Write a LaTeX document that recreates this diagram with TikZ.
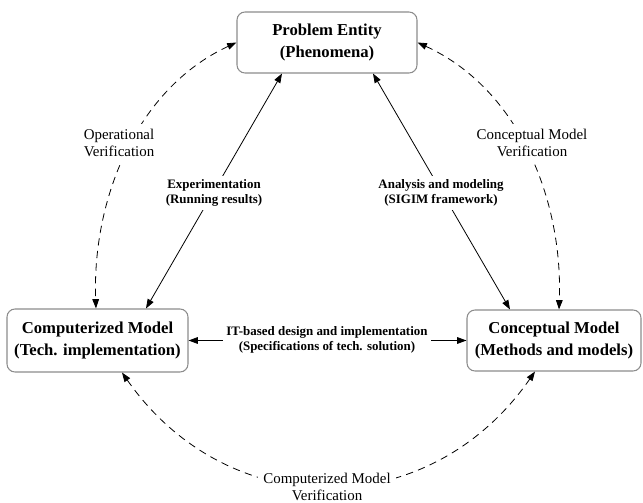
\documentclass[tikz,border=0pt]{standalone}
\usepackage{fontspec}
\setmainfont{Liberation Serif}
\usetikzlibrary{arrows.meta,calc}
\begin{document}
\begin{tikzpicture}[x=0.75pt,y=-0.75pt,
  box/.style={draw=black!45, line width=0.8pt, rounded corners=6pt, fill=white,
    align=center, inner sep=0pt, font=\bfseries\fontsize{12.5}{16.5}\selectfont},
  elab/.style={fill=white, align=center, inner sep=2.5pt,
    font=\bfseries\fontsize{9.7}{11.5}\selectfont},
  vlab/.style={fill=white, align=center, inner sep=4pt,
    font=\fontsize{11.2}{13}\selectfont},
  twoway/.style={line width=0.6pt,
    {Triangle[length=7pt,width=5pt]}-{Triangle[length=7pt,width=5pt]}},
  verif/.style={twoway, dash pattern=on 5.5pt off 4pt}
]
\path[use as bounding box] (0,0) rectangle (643,503);

% the three models
\node[box, minimum width=135pt, minimum height=45.75pt] (pe) at (327,42.5)
  {Problem Entity\\(Phenomena)};
\node[box, minimum width=135.75pt, minimum height=47.25pt] (cm) at (97.5,340.5)
  {Computerized Model\\(Tech. implementation)};
\node[box, minimum width=130.5pt, minimum height=45.75pt] (km) at (554,340.5)
  {Conceptual Model\\(Methods and models)};

% development links
\draw[twoway] (cm.north -| 146,0) -- (pe.south -| 282,0);
\draw[twoway] (km.north -| 510,0) -- (pe.south -| 373,0);
\draw[twoway] (cm.east) -- (km.west);

% verification arcs
\draw[verif] (pe.west) .. controls (136,89) and (92,200) .. (cm.north -| 96,0);
\draw[verif] (pe.east) .. controls (519,89) and (563,200) .. (km.north -| 559,0);
\draw[verif] (cm.south -| 122,0) .. controls (228,524) and (429,524) .. (km.south -| 535,0);

% labels
\node[elab] (lexp) at (214,193) {Experimentation\\(Running results)};
\node[elab] (lana) at (441,193) {Analysis and modeling\\(SIGIM framework)};
\node[elab] (lit) at (327,340) {IT-based design and implementation\\(Specifications of tech. solution)};
\node[vlab] (lop) at (119,143) {Operational\\Verification};
\node[vlab] (lcv) at (532,143) {Conceptual Model\\Verification};
\node[vlab] (lcm) at (327,487) {Computerized Model\\Verification};
\end{tikzpicture}
\end{document}
